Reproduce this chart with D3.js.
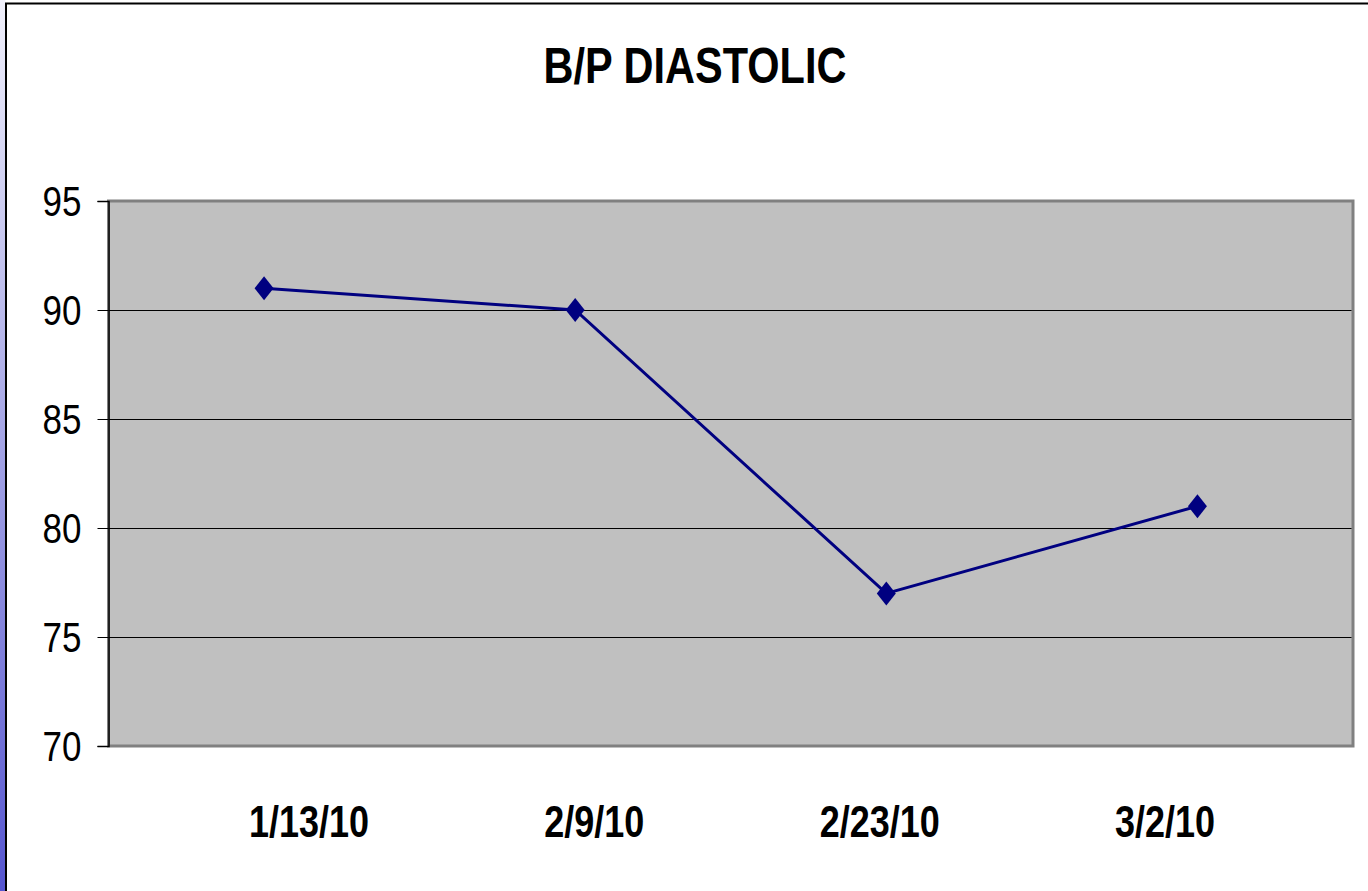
<!DOCTYPE html>
<html>
<head>
<meta charset="utf-8">
<script src="https://cdn.jsdelivr.net/npm/d3@7"></script>
<style>
  html, body { margin: 0; padding: 0; background: #ffffff; overflow: hidden; }
  text { font-family: "Liberation Sans", Arial, sans-serif; }
</style>
</head>
<body>
<div id="chart"></div>
<script>
// Chart data
var dates = ["1/13/10", "2/9/10", "2/23/10", "3/2/10"];
var diastolic = [91, 90, 77, 81];
var yTicks = [70, 75, 80, 85, 90, 95];
var chartTitle = "B/P DIASTOLIC";

var svgWidth = 1368;
var svgHeight = 891;

// plot area edges in page pixels
var plot = { left: 108.5, right: 1353, top: 201, bottom: 746 };

var svg = d3.select("#chart")
  .append("svg")
  .attr("width", svgWidth)
  .attr("height", svgHeight);

// blue strip down the left edge
var grad = svg.append("defs").append("linearGradient")
  .attr("id", "strip")
  .attr("x1", 0).attr("y1", 0).attr("x2", 0).attr("y2", 1);
grad.append("stop").attr("offset", "0%").attr("stop-color", "#f0f0fb");
grad.append("stop").attr("offset", "100%").attr("stop-color", "#5656cf");

svg.append("rect")
  .attr("x", 0).attr("y", 0)
  .attr("width", 5.5).attr("height", svgHeight)
  .attr("fill", "url(#strip)");

// outer frame of the chart
svg.append("rect")
  .attr("x", 6).attr("y", 3.5)
  .attr("width", svgWidth + 10).attr("height", svgHeight + 10)
  .attr("fill", "#ffffff")
  .attr("stroke", "#000000")
  .attr("stroke-width", 2);

// scales
var xScale = d3.scaleBand()
  .domain(dates)
  .range([plot.left, plot.right]);

var yScale = d3.scaleLinear()
  .domain([70, 95])
  .range([plot.bottom, plot.top]);

// labels sit a bit off the point centres in the original
var labelScale = d3.scalePoint()
  .domain(dates)
  .range([309, 1165]);

// plot background
svg.append("rect")
  .attr("x", plot.left)
  .attr("y", plot.top)
  .attr("width", plot.right - plot.left)
  .attr("height", plot.bottom - plot.top)
  .attr("fill", "#c0c0c0")
  .attr("stroke", "#808080")
  .attr("stroke-width", 3);

// gridlines
svg.append("g")
  .selectAll("line")
  .data(yTicks.filter(d => d > 70 && d < 95))
  .enter()
  .append("line")
  .attr("x1", plot.left)
  .attr("x2", plot.right - 1.5)
  .attr("y1", d => Math.round(yScale(d)) + 0.5)
  .attr("y2", d => Math.round(yScale(d)) + 0.5)
  .attr("stroke", "#000000")
  .attr("stroke-width", 1);

// y axis
var leftAxis = d3.axisLeft(yScale)
  .tickValues(yTicks)
  .tickSize(11)
  .tickPadding(16)
  .tickFormat(d3.format("d"));

var yAxisG = svg.append("g")
  .attr("transform", `translate(${plot.left}, 0)`)
  .call(leftAxis);
yAxisG.select(".domain")
  .attr("stroke", "#000000")
  .attr("stroke-width", 1.5);
yAxisG.selectAll(".tick line").attr("stroke", "#000000");
yAxisG.selectAll(".tick text")
  .attr("font-size", "35px")
  .attr("font-family", "Liberation Sans, Arial, sans-serif")
  .attr("fill", "#000000")
  .attr("dy", null)
  .attr("transform", function () {
    return "translate(0, 14) scale(1, 1.2)";
  })
  .attr("y", 0);

// x labels
svg.append("g")
  .selectAll("text")
  .data(dates)
  .enter()
  .append("text")
  .attr("transform", d => `translate(${labelScale(d)}, 837) scale(1, 1.22)`)
  .attr("text-anchor", "middle")
  .attr("font-size", "36px")
  .attr("font-weight", "bold")
  .attr("fill", "#000000")
  .text(d => d);

// title
svg.append("text")
  .attr("transform", "translate(695, 83) scale(1, 1.22)")
  .attr("text-anchor", "middle")
  .attr("font-size", "41.5px")
  .attr("font-weight", "bold")
  .attr("fill", "#000000")
  .text(chartTitle);

// series line
var points = dates.map((d, i) => ({ date: d, value: diastolic[i] }));

var line = d3.line()
  .x(d => xScale(d.date) + xScale.bandwidth() / 2)
  .y(d => yScale(d.value));

svg.append("path")
  .datum(points)
  .attr("d", line)
  .attr("fill", "none")
  .attr("stroke", "#000080")
  .attr("stroke-width", 3);

// diamond markers, taller than wide like the original
svg.append("g")
  .selectAll("path")
  .data(points)
  .enter()
  .append("path")
  .attr("transform", d => `translate(${xScale(d.date) + xScale.bandwidth() / 2}, ${yScale(d.value)})`)
  .attr("d", "M0,-12L9.5,0L0,12L-9.5,0Z")
  .attr("fill", "#000080");
</script>
</body>
</html>
